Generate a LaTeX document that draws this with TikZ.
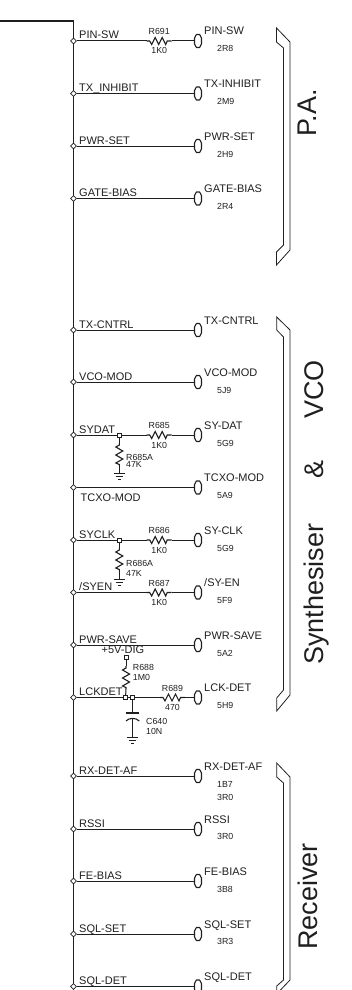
\documentclass[tikz,border=0pt]{standalone}
\usepackage{fontspec}
\setmainfont{Liberation Sans}
\usetikzlibrary{shapes.geometric}
\definecolor{ink}{gray}{0.12}
\tikzset{
  x=1pt,y=-1pt,
  wire/.style={draw=ink,line width=1pt},
  busline/.style={draw=ink,line width=1.2pt},
  busdot/.style={diamond,draw=ink,fill=white,line width=0.6pt,inner sep=0pt,minimum width=6pt,minimum height=6pt},
  conn/.style={rectangle,inner sep=0pt,minimum width=7pt,minimum height=13pt},
  connhex/.style={draw=ink,fill=white,line width=1.1pt,line join=round},
  junc/.style={rectangle,draw=ink,fill=white,line width=0.7pt,inner sep=0pt,minimum size=4pt},
  siglab/.style={text=ink,inner sep=0pt,anchor=base west,font=\fontsize{11}{11}\selectfont},
  reflab/.style={text=ink,inner sep=0pt,anchor=base west,font=\fontsize{8.8}{9}\selectfont},
  valc/.style={text=ink,inner sep=0pt,anchor=base,font=\fontsize{8.8}{9}\selectfont},
  bigt/.style={text=ink,inner sep=0pt,anchor=base west,rotate=90,font=\fontsize{27}{27}\selectfont},
  brack/.style={draw=ink,line width=0.8pt,line join=miter},
  zig/.style={draw=ink,line width=1.1pt,line join=miter},
}
% connector symbol: id, y
\newcommand{\connsym}[2]{%
  \node[conn] (c#1) at (198,#2) {};
  \draw[connhex] (196.4,#2-6.5) -- (199.6,#2-6.5) -- (201.5,#2-3) -- (201.5,#2+3) -- (199.6,#2+6.5) -- (196.4,#2+6.5) -- (194.5,#2+3) -- (194.5,#2-3) -- cycle;
}
% signal row: id, y, left label, right label
\newcommand{\sigrow}[4]{%
  \node[busdot] (d#1) at (73.5,#2) {};
  \connsym{#1}{#2}
  \node[siglab] (l#1) at (79,#2-2) {#3};
  \node[siglab] (r#1) at (204,#2-6) {#4};
}
% horizontal resistor: id, left x, y, name, value
\newcommand{\hres}[5]{%
  \coordinate (#1a) at (#2,#3);
  \coordinate (#1b) at (#2+25,#3);
  \draw[zig] (#1a) -- ++(3,0) -- ++(2,3.5) -- ++(3.5,-7) -- ++(3.5,7) -- ++(3.5,-7) -- ++(3.5,7) -- ++(1.5,-3.5) -- (#1b);
  \node[valc] (#1n) at (#2+12.5,#3-6.5) {#4};
  \node[valc] (#1v) at (#2+12.5,#3+13) {#5};
}
% vertical resistor: id, x, top y, bottom y
\newcommand{\vres}[4]{%
  \coordinate (#1a) at (#2,#3);
  \coordinate (#1b) at (#2,#4);
  \draw[zig] (#1a) -- ++(0,2) -- ++(-3.5,2) -- ++(7,4) -- ++(-7,4) -- ++(7,4) -- ++(-7,4) -- ++(3.5,1.5) -- (#1b);
}
% ground: id, x, y
\newcommand{\gnd}[3]{%
  \coordinate (#1) at (#2,#3);
  \draw[wire] (#2-5.5,#3) -- (#2+5.5,#3);
  \draw[draw=ink,line width=0.7pt] (#2-3.5,#3+3) -- (#2+3.5,#3+3);
  \draw[draw=ink,line width=0.7pt] (#2-1.5,#3+6) -- (#2+1.5,#3+6);
}
\begin{document}
\begin{tikzpicture}
\useasboundingbox (0,0) rectangle (351,990);
\clip (0,0) rectangle (351,990);
\coordinate (bs) at (0,21);
\coordinate (bc) at (73.5,21);
\coordinate (be) at (73.5,990);
\draw[busline] (bs) -- (bc) -- (be);

\sigrow{a}{41}{PIN-SW}{PIN-SW}
\sigrow{b}{93.5}{TX\_INHIBIT}{TX-INHIBIT}
\sigrow{c}{146}{PWR-SET}{PWR-SET}
\sigrow{e}{198.5}{GATE-BIAS}{GATE-BIAS}
\sigrow{f}{330}{TX-CNTRL}{TX-CNTRL}
\sigrow{g}{382}{VCO-MOD}{VCO-MOD}
\sigrow{h}{435}{SYDAT}{SY-DAT}
\node[busdot] (di) at (73.5,487.5) {};
\connsym{i}{487.5}
\node[siglab] (li) at (80.5,501) {TCXO-MOD};
\node[siglab] (ri) at (204,481.5) {TCXO-MOD};
\sigrow{j}{540}{SYCLK}{SY-CLK}
\sigrow{k}{592.5}{/SYEN}{/SY-EN}
\sigrow{m}{645}{PWR-SAVE}{PWR-SAVE}
\sigrow{n}{697.5}{LCKDET}{LCK-DET}
\sigrow{p}{776}{RX-DET-AF}{RX-DET-AF}
\sigrow{q}{829}{RSSI}{RSSI}
\sigrow{s}{881}{FE-BIAS}{FE-BIAS}
\sigrow{t}{934}{SQL-SET}{SQL-SET}
\sigrow{u}{986.5}{SQL-DET}{SQL-DET}

% plain wires
\foreach \w in {b,c,e,f,g,i,m,p,q,s,t,u}{\draw[wire] (d\w) -- (c\w);}

% references
\node[reflab] at (217,52) {2R8};
\node[reflab] at (217,104) {2M9};
\node[reflab] at (217,157) {2H9};
\node[reflab] at (217,209) {2R4};
\node[reflab] at (217,393) {5J9};
\node[reflab] at (217,446) {5G9};
\node[reflab] at (217,498) {5A9};
\node[reflab] at (217,551) {5G9};
\node[reflab] at (217,603) {5F9};
\node[reflab] at (217,656) {5A2};
\node[reflab] at (217,708) {5H9};
\node[reflab] at (217,787) {1B7};
\node[reflab] at (217,800) {3R0};
\node[reflab] at (217,839) {3R0};
\node[reflab] at (217,892) {3B8};
\node[reflab] at (217,944) {3R3};

% R691
\hres{ra}{146.7}{41}{R691}{1K0}
\draw[wire] (da) -- (raa);
\draw[wire] (rab) -- (ca);

% R685 / R685A
\node[junc] (jh) at (119.3,435) {};
\hres{rh}{146.7}{435}{R685}{1K0}
\draw[wire] (dh) -- (jh);
\draw[wire] (jh) -- (rha);
\draw[wire] (rhb) -- (ch);
\vres{vh}{119.3}{443}{466}
\gnd{gh}{119.3}{473}
\draw[wire] (jh) -- (vha);
\draw[wire] (vhb) -- (gh);
\node[reflab] at (126,460.5) {R685A};
\node[reflab] at (126,467) {47K};

% R686 / R686A
\node[junc] (jj) at (119.3,540) {};
\hres{rj}{146.7}{540}{R686}{1K0}
\draw[wire] (dj) -- (jj);
\draw[wire] (jj) -- (rja);
\draw[wire] (rjb) -- (cj);
\vres{vj}{119.3}{548}{571}
\gnd{gj}{119.3}{579}
\draw[wire] (jj) -- (vja);
\draw[wire] (vjb) -- (gj);
\node[reflab] at (126,566) {R686A};
\node[reflab] at (126,576) {47K};

% R687
\hres{rk}{146.7}{592.5}{R687}{1K0}
\draw[wire] (dk) -- (rka);
\draw[wire] (rkb) -- (ck);

% R688, R689, C640
\node[siglab] at (101.5,653) {+5V-DIG};
\node[junc] (jv) at (126,657.7) {};
\node[junc] (jn) at (125.5,697.5) {};
\node[junc] (jc) at (132.7,697.5) {};
\vres{vn}{126}{666}{689}
\draw[wire] (jv) -- (vna);
\draw[wire] (vnb) -- (jn);
\node[reflab] at (132.7,670.7) {R688};
\node[reflab] at (132.7,680.7) {1M0};
\hres{rn}{160}{697.5}{R689}{470}
\draw[wire] (dn) -- (jn);
\draw[wire] (jn) -- (jc);
\draw[wire] (jc) -- (rna);
\draw[wire] (rnb) -- (cn);
\coordinate (ct) at (132.7,713);
\coordinate (cb) at (132.7,718.5);
\draw[wire] (jc) -- (ct);
\draw[draw=ink,line width=1.1pt] (126,713) -- (139.3,713);
\draw[draw=ink,line width=1.1pt] (126,721) .. controls (129,717.5) and (136,717.5) .. (139.3,721);
\gnd{gn}{132.7}{737}
\draw[wire] (cb) -- (gn);
\node[reflab] at (146,724) {C640};
\node[reflab] at (146,734) {10N};

% brackets
\draw[brack] (276.5,28) -- (290,42) -- (290,250) -- (276.5,265) -- (276.5,252) -- (283.5,245) -- (283.5,48) -- (276.5,42) -- cycle;
\draw[brack] (276.7,317) -- (290,330) -- (290,695) -- (276.7,711) -- (276.7,698) -- (283.5,690) -- (283.5,337) -- (276.7,330) -- cycle;
\draw[brack] (276.7,763) -- (290,777) -- (290,980) -- (276.7,994) -- (276.7,986) -- (283.5,980) -- (283.5,783) -- (276.7,777) -- cycle;

% group titles
\node[bigt] at (316,137) {P.A.};
\node[bigt] at (323,419) {VCO};
\node[bigt] at (323,479) {\&};
\node[bigt] at (323,665) {Synthesiser};
\node[bigt] at (317,950) {Receiver};
\end{tikzpicture}
\end{document}
